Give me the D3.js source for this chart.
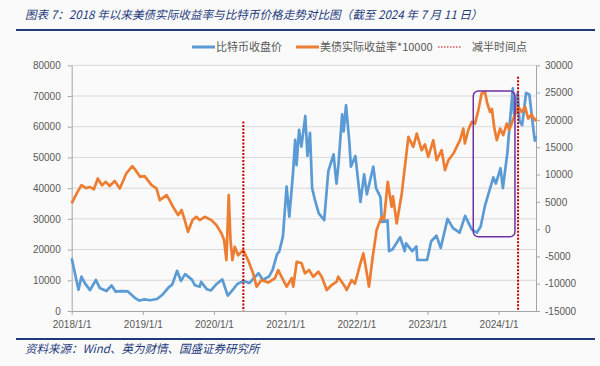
<!DOCTYPE html>
<html>
<head>
<meta charset="utf-8">
<script src="https://cdn.jsdelivr.net/npm/d3@7"></script>
<style>
  html, body { margin: 0; padding: 0; background: #fafafa; }
  svg { display: block; }
</style>
</head>
<body>
<svg id="chart" width="600" height="366"></svg>
<script>
// ---------------- DATA ----------------
const titleText = "图表 7：2018 年以来美债实际收益率与比特币价格走势对比图（截至 2024 年 7 月 11 日）";
const sourceText = "资料来源：Wind、英为财情、国盛证券研究所";
const seriesNames = ["比特币收盘价", "美债实际收益率*10000", "减半时间点"];

const leftTicks = [0, 10000, 20000, 30000, 40000, 50000, 60000, 70000, 80000];
const rightTicks = [-15000, -10000, -5000, 0, 5000, 10000, 15000, 20000, 25000, 30000];
const xTickDates = ["2018-01-01", "2019-01-01", "2020-01-01", "2021-01-01", "2022-01-01", "2023-01-01", "2024-01-01"];
const dateDomain = ["2018-01-01", "2024-07-11"];

// Bitcoin close (left axis)
const btcDates = [
 "2018-01-01","2018-01-10","2018-02-05","2018-02-20","2018-03-10","2018-04-05","2018-05-05","2018-05-25","2018-06-28","2018-07-25",
 "2018-08-15","2018-09-15","2018-10-15","2018-11-25","2018-12-15","2019-01-10","2019-02-07","2019-03-15","2019-04-10","2019-05-15",
 "2019-06-01","2019-06-26","2019-07-16","2019-08-06","2019-09-10","2019-09-25","2019-10-20","2019-10-27","2019-11-25","2019-12-17",
 "2020-01-15","2020-02-13","2020-03-12","2020-04-01","2020-04-30","2020-06-01","2020-07-01","2020-07-28","2020-08-17","2020-09-08",
 "2020-10-10","2020-10-28","2020-11-20","2020-12-01","2020-12-20","2021-01-08","2021-01-22","2021-02-10","2021-02-21","2021-02-28",
 "2021-03-13","2021-03-25","2021-04-14","2021-04-25","2021-05-08","2021-05-19","2021-06-01","2021-06-22","2021-07-20","2021-08-10",
 "2021-09-06","2021-09-21","2021-10-01","2021-10-20","2021-10-28","2021-11-09","2021-11-26","2021-12-04","2021-12-27","2022-01-22",
 "2022-02-10","2022-02-24","2022-03-29","2022-04-12","2022-05-05","2022-05-12","2022-06-10","2022-06-18","2022-07-05","2022-08-14",
 "2022-09-06","2022-09-13","2022-10-15","2022-11-05","2022-11-10","2022-12-30","2023-01-20","2023-02-16","2023-03-10","2023-04-14",
 "2023-05-12","2023-06-15","2023-07-13","2023-08-17","2023-09-11","2023-10-01","2023-10-24","2023-12-05","2023-12-18","2024-01-11",
 "2024-01-23","2024-02-15","2024-02-28","2024-03-14","2024-03-20","2024-04-08","2024-04-17","2024-05-01","2024-05-21","2024-06-07",
 "2024-06-24","2024-07-05","2024-07-11"];
const btcValues = [
 17200,14500,6900,11200,9000,6800,10100,7500,6500,8300,
 6300,6500,6400,4100,3400,3800,3500,3900,5200,7800,
 8600,13100,9800,12000,10200,8400,7900,9500,7100,6700,
 8800,10300,5000,6500,8800,9800,9100,11000,12300,10100,
 11300,13300,18500,19300,24200,40500,30700,45000,55700,47500,
 59000,53500,63500,50500,58000,40000,36500,31800,29600,45500,
 51000,41500,47500,64000,58500,67000,55000,47000,50500,35500,
 44500,38000,47000,40000,37000,29000,29500,19500,20000,24000,
 19500,22000,19500,21000,16600,16600,22700,24500,20500,30000,
 27000,25500,31000,26500,25500,27500,34500,43500,41500,46500,
 40000,51500,61500,72500,64000,71000,62000,60500,71000,70500,
 61000,55500,57000];

// US real yield * 10000 (right axis)
const ryDates = [
 "2018-01-01","2018-01-26","2018-02-20","2018-03-15","2018-04-05","2018-04-25","2018-05-15","2018-06-05","2018-06-25","2018-07-15",
 "2018-08-10","2018-09-05","2018-10-08","2018-11-08","2018-11-25","2018-12-18","2019-01-10","2019-02-15","2019-03-12","2019-03-29",
 "2019-05-03","2019-05-18","2019-06-05","2019-07-01","2019-07-19","2019-08-04","2019-08-21","2019-09-13","2019-10-03","2019-10-20",
 "2019-11-15","2019-12-19","2020-01-14","2020-02-09","2020-02-22","2020-03-05","2020-03-17","2020-03-26","2020-04-05","2020-04-17",
 "2020-05-04","2020-05-30","2020-06-24","2020-07-20","2020-08-07","2020-09-01","2020-10-05","2020-11-09","2020-11-26","2020-12-22",
 "2021-01-08","2021-02-03","2021-02-11","2021-03-01","2021-03-26","2021-04-12","2021-05-03","2021-05-25","2021-06-20","2021-07-07",
 "2021-08-02","2021-08-27","2021-09-22","2021-09-30","2021-11-04","2021-11-12","2021-12-08","2021-12-25","2022-01-20","2022-02-06",
 "2022-02-18","2022-03-07","2022-03-26","2022-04-15","2022-04-27","2022-05-11","2022-05-23","2022-06-11","2022-07-01","2022-07-08",
 "2022-07-27","2022-08-22","2022-09-25","2022-10-20","2022-11-07","2022-12-02","2022-12-19","2023-01-05","2023-01-31","2023-02-17",
 "2023-03-15","2023-04-01","2023-04-18","2023-05-14","2023-06-17","2023-07-04","2023-07-12","2023-07-29","2023-08-16","2023-09-02",
 "2023-09-19","2023-10-06","2023-10-23","2023-11-04","2023-11-18","2023-11-28","2023-12-09","2023-12-23","2024-01-09","2024-01-25",
 "2024-02-12","2024-02-25","2024-03-17","2024-04-11","2024-04-29","2024-05-16","2024-06-01","2024-06-18","2024-07-05","2024-07-11"];
const ryValues = [
 4700,6500,8050,7500,7700,7300,9280,8000,8650,7900,
 8830,7440,10180,11530,10800,9570,9700,8050,7440,5300,
 6220,5300,4080,2560,3500,1650,-500,1650,2250,1650,
 2250,1650,730,-800,-2000,-5670,6220,-2010,-5670,-3230,
 -4800,-3840,-5670,-8100,-10550,-9330,-9800,-9000,-7500,-9330,
 -10550,-9000,-10550,-5980,-6270,-8100,-7500,-8720,-7800,-8720,
 -11160,-10240,-9640,-8720,-10550,-11160,-9330,-10000,-6500,-4450,
 -6900,-10550,-5060,-180,1000,2250,1800,8650,4080,6000,
 1040,6530,16880,15050,17500,14450,15500,13230,16280,12620,
 14450,10790,12600,13840,16280,18400,15680,18110,19630,19330,
 21770,24820,25120,23000,21460,22000,18720,16280,18420,17200,
 19330,18200,20250,22380,21460,22380,20250,21000,19940,20300];

// Halving annotations (date, top of marker on left-axis scale)
const halvingDates = ["2020-05-31", "2024-04-10"];
const halvingTops = [61700, 76300];

// Highlight box (date range / left-axis value range)
const boxRange = { start: "2023-08-24", end: "2024-03-25", low: 24200, high: 71600 };

// ---------------- CHART ----------------
const parse = d3.timeParse("%Y-%m-%d");
const svg = d3.select("#chart");
const W = 600, H = 366;
const plot = { left: 71.7, right: 536, top: 65.3, bottom: 311 };

const x = d3.scaleTime().domain(dateDomain.map(parse)).range([plot.left, plot.right]);
const yL = d3.scaleLinear().domain([0, 80000]).range([plot.bottom, plot.top]);
const yR = d3.scaleLinear().domain([-15000, 30000]).range([plot.bottom, plot.top]);

const navy = "#1f3a7a";
const axisGray = "#a6a6a6";
const labelGray = "#595959";
const cjk = "'Noto Sans CJK SC', 'Noto Sans', sans-serif";
const latin = "'Liberation Sans', Arial, sans-serif";

svg.append("rect").attr("width", W).attr("height", H).attr("fill", "#fafafa");

// Title
svg.append("text").attr("x", 25).attr("y", 19)
  .attr("font-family", cjk).attr("font-style", "italic").attr("font-size", 11.6)
  .attr("fill", navy).text(titleText);
svg.append("line").attr("x1", 16).attr("x2", 595).attr("y1", 30).attr("y2", 30)
  .attr("stroke", navy).attr("stroke-width", 2);

// Footer
svg.append("line").attr("x1", 16).attr("x2", 595).attr("y1", 339).attr("y2", 339)
  .attr("stroke", navy).attr("stroke-width", 2);
svg.append("text").attr("x", 25).attr("y", 353)
  .attr("font-family", cjk).attr("font-style", "italic").attr("font-size", 11.5)
  .attr("fill", navy).text(sourceText);

// Gridlines
svg.append("g").selectAll("line").data(leftTicks.filter(d => d > 0)).join("line")
  .attr("x1", plot.left).attr("x2", plot.right)
  .attr("y1", d => yL(d)).attr("y2", d => yL(d))
  .attr("stroke", "#d9d9d9").attr("stroke-width", 1);

// Axes
function styleAxis(g) {
  g.select(".domain").attr("stroke", axisGray).attr("stroke-width", 1);
  g.selectAll(".tick line").attr("stroke", axisGray);
  g.selectAll(".tick text").attr("fill", labelGray).attr("font-family", latin).attr("font-size", 10);
}
const gL = svg.append("g").attr("transform", `translate(${plot.left},0)`)
  .call(d3.axisLeft(yL).tickValues(leftTicks).tickFormat(d => String(d)).tickSize(4).tickPadding(7).tickSizeOuter(0));
styleAxis(gL);
const gR = svg.append("g").attr("transform", `translate(${plot.right},0)`)
  .call(d3.axisRight(yR).tickValues(rightTicks).tickFormat(d => String(d)).tickSize(4).tickPadding(5).tickSizeOuter(0));
styleAxis(gR);
const gB = svg.append("g").attr("transform", `translate(0,${plot.bottom})`)
  .call(d3.axisBottom(x).tickValues(xTickDates.map(parse)).tickFormat(d3.timeFormat("%Y/%-m/%-d")).tickSize(4).tickPadding(6).tickSizeOuter(0));
styleAxis(gB);

// Lines
const btc = btcDates.map((d, i) => ({ t: parse(d), v: btcValues[i] }));
const ry = ryDates.map((d, i) => ({ t: parse(d), v: ryValues[i] }));

svg.append("path").datum(btc)
  .attr("d", d3.line().x(d => x(d.t)).y(d => yL(d.v)))
  .attr("fill", "none").attr("stroke", "#5b9bd5").attr("stroke-width", 2.7).attr("stroke-linejoin", "round");
svg.append("path").datum(ry)
  .attr("d", d3.line().x(d => x(d.t)).y(d => yR(d.v)))
  .attr("fill", "none").attr("stroke", "#ed7d31").attr("stroke-width", 2.7).attr("stroke-linejoin", "round");

// Halving lines
svg.append("g").selectAll("line").data(halvingDates.map((d, i) => ({ t: parse(d), top: halvingTops[i] }))).join("line")
  .attr("x1", d => x(d.t)).attr("x2", d => x(d.t))
  .attr("y1", d => yL(d.top)).attr("y2", plot.bottom)
  .attr("stroke", "#c00000").attr("stroke-width", 2).attr("stroke-dasharray", "2,1.5");

// Highlight box
svg.append("rect")
  .attr("x", x(parse(boxRange.start))).attr("y", yL(boxRange.high))
  .attr("width", x(parse(boxRange.end)) - x(parse(boxRange.start)))
  .attr("height", yL(boxRange.low) - yL(boxRange.high))
  .attr("rx", 5).attr("fill", "none").attr("stroke", "#7030a0").attr("stroke-width", 1.5);

// Legend
const legend = svg.append("g").attr("font-family", cjk).attr("font-size", 11).attr("fill", labelGray);
const legItems = [
  { name: seriesNames[0], x: 192, color: "#5b9bd5", dash: null, w: 3 },
  { name: seriesNames[1], x: 296, color: "#ed7d31", dash: null, w: 3 },
  { name: seriesNames[2], x: 438, color: "#c00000", dash: "1.5,1.5", w: 1 }
];
legItems.forEach(it => {
  legend.append("line").attr("x1", it.x).attr("x2", it.x + 23).attr("y1", 47).attr("y2", 47)
    .attr("stroke", it.color).attr("stroke-width", it.w).attr("stroke-dasharray", it.dash);
  legend.append("text").attr("x", it.x + (it.dash ? 34 : 24)).attr("y", 51).text(it.name);
});
</script>
</body>
</html>
